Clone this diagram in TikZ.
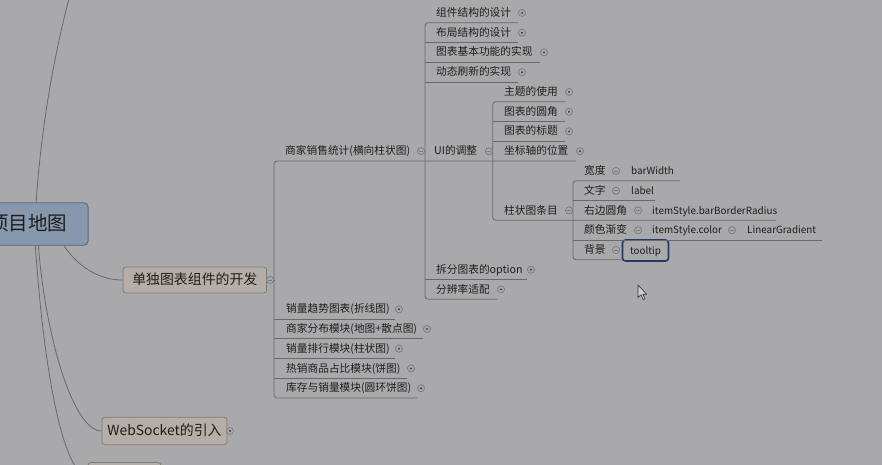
\documentclass[tikz,border=0pt]{standalone}
\usepackage{fontspec}
\setmainfont{Noto Sans CJK SC}
\definecolor{bg}{HTML}{A9A9AB}
\definecolor{lnc}{HTML}{69696B}
\definecolor{txt}{HTML}{1E1E1E}
\definecolor{rootfill}{HTML}{8797AC}
\definecolor{rootdraw}{HTML}{56677E}
\definecolor{lvfill}{HTML}{B5ADA7}
\definecolor{lvdraw}{HTML}{817B76}
\definecolor{selc}{HTML}{1F3A6B}
\definecolor{circ}{HTML}{7A7A7C}
\definecolor{dotc}{HTML}{3A3A3A}
\begin{document}
\begin{tikzpicture}[x=1pt,y=-1pt,
  ln/.style={draw=lnc, line width=0.8pt},
  tree/.style={ln, rounded corners=3pt},
  curve/.style={draw=lnc, line width=0.8pt},
  lab/.style={anchor=west, inner sep=0pt, text=txt, font=\fontsize{10.7}{12}\selectfont, text height=9pt, text depth=1.8pt},
  latin/.style={lab, font=\fontsize{9.9}{12}\selectfont},
  colc/.style={circle, draw=circ, line width=0.6pt, minimum size=7pt, inner sep=0pt, fill=bg,
    path picture={\fill[dotc] (path picture bounding box.center) circle (1.1pt);}},
  expc/.style={circle, draw=circ, line width=0.6pt, minimum size=7pt, inner sep=0pt, fill=bg,
    path picture={\draw[circ, line width=0.6pt] ([xshift=-1.8pt]path picture bounding box.center) -- ([xshift=1.8pt]path picture bounding box.center);}},
  rootbox/.style={rectangle, rounded corners=4pt, draw=rootdraw, line width=0.8pt, fill=rootfill, text=txt,
    font=\fontsize{19.5}{22}\selectfont, inner xsep=21pt, minimum height=42.5pt, text height=16.5pt, text depth=3pt},
  lvbox/.style={rectangle, rounded corners=3pt, draw=lvdraw, line width=0.8pt, fill=lvfill, text=txt,
    font=\fontsize{13.9}{16}\selectfont, text height=11.8pt, text depth=2.2pt},
  selbox/.style={rectangle, rounded corners=3pt, draw=selc, line width=1.6pt, text=txt,
    font=\fontsize{9.9}{12}\selectfont, minimum width=46pt, minimum height=21pt, inner sep=0pt, text height=9pt, text depth=1.8pt}
]
\useasboundingbox (0,0) rectangle (882,465);
\clip (0,0) rectangle (882,465);
\fill[bg] (0,0) rectangle (882,465);

% ---------- root connectors (drawn first, under the boxes) ----------
\coordinate (rs1) at (35,224);
\coordinate (rs2) at (55,228);
\coordinate (rs3) at (38,240);
\coordinate (rs4) at (35,240);
\coordinate (topend) at (80,-40);
\node[lvbox, minimum width=125pt, minimum height=27.5pt] (ws) at (164.5,431) {WebSocket的引入};
\node[lvbox, minimum width=73pt, minimum height=27pt] (bot) at (124.5,476) {};
\node[lvbox, minimum width=143.5pt, minimum height=26pt] (dev) at (194.8,280) {单独图表组件的开发};

\draw[curve] (rs1) .. controls (38,150) and (52,50) .. (topend);
\draw[curve] (rs2) .. controls (65,255) and (90,280) .. (dev.west);
\draw[curve] (rs3) .. controls (44,330) and (72,431) .. (ws.west);
\draw[curve] (rs4) .. controls (44,380) and (65,476) .. (bot.west);

\node[rootbox, anchor=east] (root) at (88.5,224) {项目地图};

% ---------- level 2 : children of 单独图表组件的开发 ----------
\node[expc] (devc) at (270,280) {};
\node[lab] (s1) at (285,151.2) {商家销售统计(横向柱状图)};
\node[expc] (s1c) at (421,151.2) {};
\node[lab] (e1) at (286,309.2) {销量趋势图表(折线图)};
\node[colc] (e1c) at (399,309.2) {};
\node[lab] (e2) at (286,328.9) {商家分布模块(地图+散点图)};
\node[colc] (e2c) at (427,328.9) {};
\node[lab] (e3) at (286,348.7) {销量排行模块(柱状图)};
\node[colc] (e3c) at (399,348.7) {};
\node[lab] (e4) at (286,368.4) {热销商品占比模块(饼图)};
\node[colc] (e4c) at (411,368.4) {};
\node[lab] (e5) at (286,388.2) {库存与销量模块(圆环饼图)};
\node[colc] (e5c) at (421,388.2) {};

% ---------- level 3 : children of 商家销售统计 ----------
\node[lab] (a1) at (436,12.9) {组件结构的设计};
\node[colc] (a1c) at (522,12.9) {};
\node[lab] (a2) at (436,32.7) {布局结构的设计};
\node[colc] (a2c) at (522,32.7) {};
\node[lab] (a3) at (436,52.4) {图表基本功能的实现};
\node[colc] (a3c) at (544,52.4) {};
\node[lab] (a4) at (436,72.2) {动态刷新的实现};
\node[colc] (a4c) at (522,72.2) {};
\node[lab] (a5) at (434,151.2) {UI的调整};
\node[expc] (a5c) at (489,151.2) {};
\node[lab] (a6) at (436,269.7) {拆分图表的option};
\node[colc] (a6c) at (531,269.7) {};
\node[lab] (a7) at (436,289.4) {分辨率适配};
\node[colc] (a7c) at (501,289.4) {};

% ---------- level 4 : children of UI的调整 ----------
\node[lab] (b1) at (504,91.9) {主题的使用};
\node[colc] (b1c) at (569,91.9) {};
\node[lab] (b2) at (504,111.7) {图表的圆角};
\node[colc] (b2c) at (569,111.7) {};
\node[lab] (b3) at (504,131.4) {图表的标题};
\node[colc] (b3c) at (569,131.4) {};
\node[lab] (b4) at (504,151.2) {坐标轴的位置};
\node[colc] (b4c) at (580,151.2) {};
\node[lab] (b5) at (504,210.4) {柱状图条目};
\node[expc] (b5c) at (569,210.4) {};

% ---------- level 5 : children of 柱状图条目 ----------
\node[lab] (d1) at (584,170.9) {宽度};
\node[expc] (d1c) at (616,170.9) {};
\node[latin] (d1v) at (631,170.9) {barWidth};
\node[lab] (d2) at (584,190.7) {文字};
\node[expc] (d2c) at (616,190.7) {};
\node[latin] (d2v) at (631,190.7) {label};
\node[lab] (d3) at (584,210.4) {右边圆角};
\node[expc] (d3c) at (638,210.4) {};
\node[latin] (d3v) at (652,210.4) {itemStyle.barBorderRadius};
\node[lab] (d4) at (584,230.2) {颜色渐变};
\node[expc] (d4c) at (638,230.2) {};
\node[latin] (d4v) at (652,230.2) {itemStyle.color};
\node[expc] (d4vc) at (732,230.2) {};
\node[latin] (d4w) at (747,230.2) {LinearGradient};
\node[lab] (d5) at (584,249.9) {背景};
\node[expc] (d5c) at (616,249.9) {};
\node[selbox] (d5v) at (645.5,250.5) {tooltip};

% ---------- elbow connectors ----------
\coordinate (u0) at (425,22.7);
\coordinate (u1) at (425,42.5);
\coordinate (u2) at (425,62.2);
\coordinate (u3) at (425,82.0);
\coordinate (u4) at (492.7,101.7);
\coordinate (u5) at (492.7,121.5);
\coordinate (u6) at (492.7,141.2);
\coordinate (u7) at (274,161.0);
\coordinate (u8) at (573,180.7);
\coordinate (u9) at (573,200.5);
\coordinate (u10) at (492.7,220.2);
\coordinate (u11) at (573,240.0);
\coordinate (u12) at (573,259.7);
\coordinate (u13) at (425,279.5);
\coordinate (u14) at (425,299.2);
\coordinate (u15) at (274,319.0);
\coordinate (u16) at (274,338.7);
\coordinate (u17) at (274,358.5);
\coordinate (u18) at (274,378.2);
\coordinate (u19) at (274,398.0);
\coordinate (w8) at (680,180.7);
\coordinate (w9) at (655,200.5);
\coordinate (w10) at (776,220.2);
\coordinate (w11) at (822,240.0);

% 单独图表组件的开发 branch
\draw[ln] (devc.east) -- (274,280);
\draw[tree] (b4c.west |- u7) -- (u7) -- (u19) -- (e5c.west |- u19);
\draw[ln] (u15) -- (e1c.west |- u15);
\draw[ln] (u16) -- (e2c.west |- u16);
\draw[ln] (u17) -- (e3c.west |- u17);
\draw[ln] (u18) -- (e4c.west |- u18);

% 商家销售统计 branch
\draw[tree] (a1c.west |- u0) -- (u0) -- (u14) -- (a7c.west |- u14);
\draw[ln] (u1) -- (a2c.west |- u1);
\draw[ln] (u2) -- (a3c.west |- u2);
\draw[ln] (u3) -- (a4c.west |- u3);
\draw[ln] (u13) -- (a6c.west |- u13);

% UI的调整 branch
\draw[tree] (b1c.west |- u4) -- (u4) -- (u10) -- (w10);
\draw[ln] (u5) -- (b2c.west |- u5);
\draw[ln] (u6) -- (b3c.west |- u6);

% 柱状图条目 branch
\draw[tree] (w8) -- (u8) -- (u12) -- (d5v.west |- u12);
\draw[ln] (u9) -- (w9);
\draw[ln] (u11) -- (w11);

% circles on top of the lines
\foreach \c in {devc,s1c,a5c,b5c,d1c,d2c,d3c,d4c,d4vc,d5c}{\node[expc] at (\c) {};}
\foreach \c in {e1c,e2c,e3c,e4c,e5c,a1c,a2c,a3c,a4c,a6c,a7c,b1c,b2c,b3c,b4c}{\node[colc] at (\c) {};}
\node[colc] (wsc) at (230,431) {};

% mouse pointer
\draw[draw=black!80, fill=black!20, line width=0.6pt, line join=round]
  (638,285) -- (638,297.5) -- (641,294.8) -- (643.2,299.6) -- (645,298.8) -- (642.8,294.2) -- (646.6,294.2) -- cycle;
\end{tikzpicture}
\end{document}
